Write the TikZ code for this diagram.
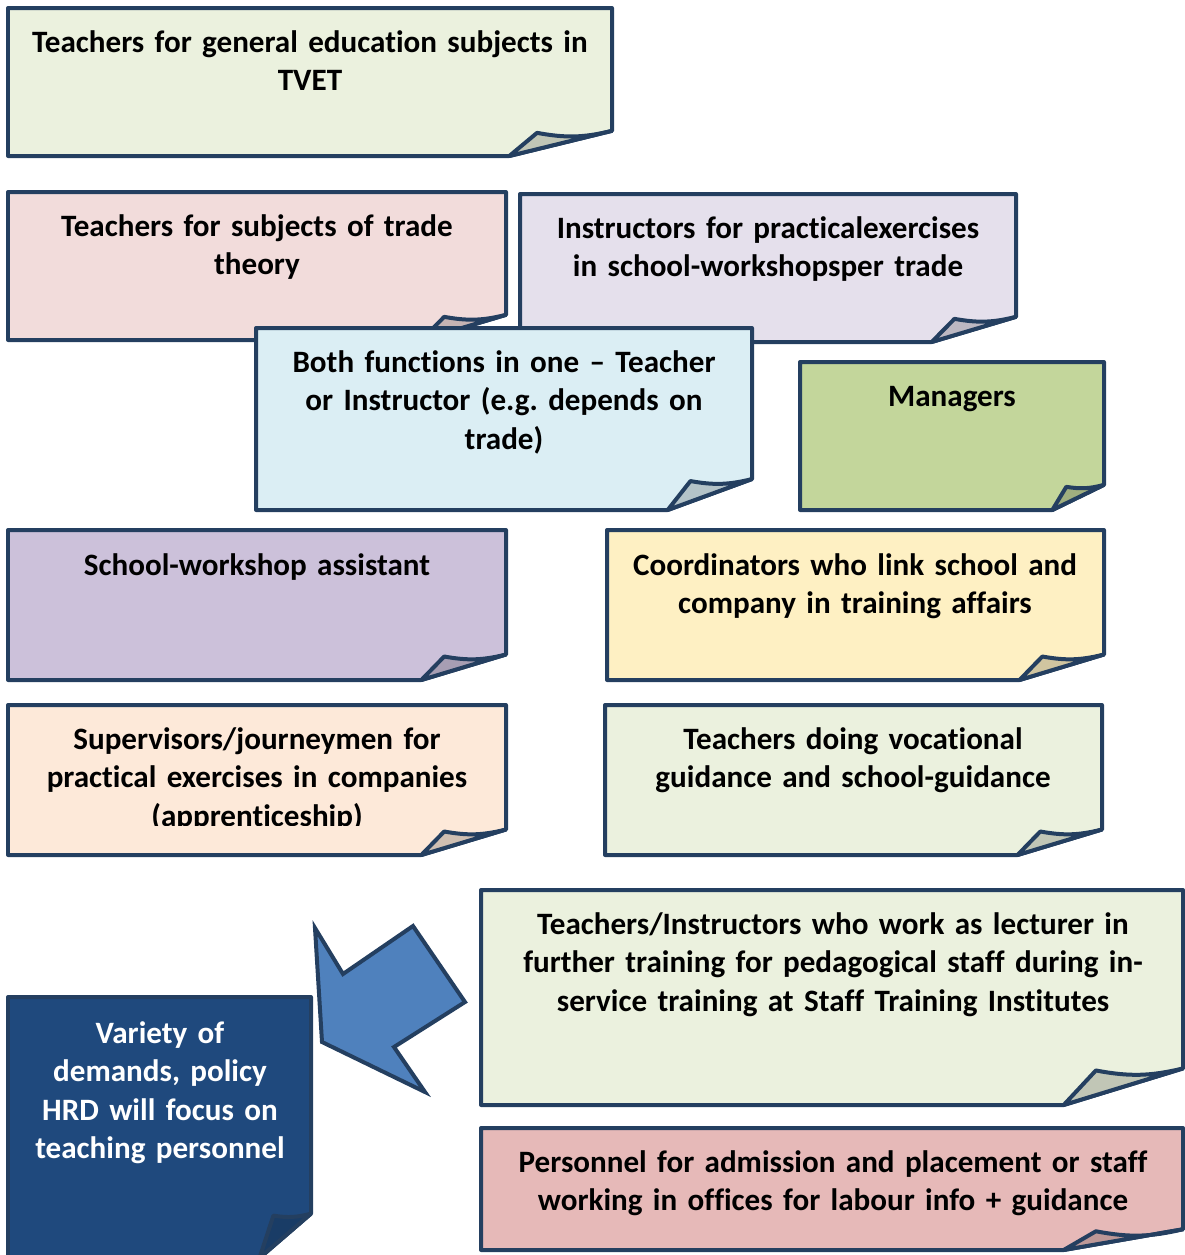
\documentclass[tikz,border=0pt]{standalone}
\usepackage{fontspec}
\setmainfont{Carlito}[Ligatures=NoCommon]
\frenchspacing
\usetikzlibrary{calc}
\usetikzlibrary{positioning}

\definecolor{edgeblue}{HTML}{243F60}
\definecolor{genfill}{HTML}{EBF1DE}
\definecolor{theoryfill}{HTML}{F2DCDB}
\definecolor{instrfill}{HTML}{E5E0EC}
\definecolor{bothfill}{HTML}{DBEEF4}
\definecolor{mgrfill}{HTML}{C3D69B}
\definecolor{assistfill}{HTML}{CCC1DA}
\definecolor{coordfill}{HTML}{FEF0C3}
\definecolor{supfill}{HTML}{FDE9D9}
\definecolor{persfill}{HTML}{E6B9B8}
\definecolor{varfill}{HTML}{1F497D}
\definecolor{arrowfill}{HTML}{4F81BD}

\tikzset{
	cardline/.style={draw=edgeblue, line width=0.08cm, line join=round},
	cardtext/.style={
		anchor=base,
		align=center,
		text width=#1,
		inner sep=0pt,
		font=\fontsize{17.7}{22}\selectfont\bfseries},
	bigarrow/.style={draw=edgeblue, line width=0.08cm, line join=miter, fill=arrowfill},
}

% folded note: name, left, top, right, bottom, fill
\newcommand{\notecard}[6]{
	\coordinate (#1-nw) at (#2,#3);
	\coordinate (#1-se) at (#4,#5);
	\coordinate (#1-c1) at ($(#1-se)!0.17!(#1-se -| #1-nw)$);
	\coordinate (#1-c2) at ($(#1-se)!0.17!(#1-se |- #1-nw)$);
	\coordinate (#1-m) at ($(#1-c1)!0.27!(#1-c2)$);
	\coordinate (#1-tip) at ($(#1-m |- #1-c2)+(0,2)$);
	\filldraw[cardline, fill=#6] (#1-nw) -- (#1-nw -| #1-se) -- (#1-c2) -- (#1-c1) -- (#1-nw |- #1-se) -- cycle;
	\filldraw[cardline, fill=#6!82!black] (#1-c1) -- (#1-tip) to[bend right=12] (#1-c2) -- cycle;
}

\begin{document}
\begin{tikzpicture}[x=0.02cm, y=-0.02cm]
	\useasboundingbox (0,0) rectangle (1185,1255);
	\clip (0,0) rectangle (1185,1255);

	\notecard{gen}{8}{8}{612}{156}{genfill}
	\node[cardtext=11.6cm] (gentext) at (310,52) {Teachers for general education subjects in\\TVET};

	\notecard{theory}{8}{192}{506}{340}{theoryfill}
	\node[cardtext=9.6cm] (theorytext) at (257,236) {Teachers for subjects of trade\\theory};

	\notecard{instr}{520}{194}{1016}{342}{instrfill}
	\node[cardtext=9.6cm] (instrtext) at (768,238) {Instructors for practicalexercises\\in school-workshopsper trade};

	\notecard{both}{256}{328}{752}{510}{bothfill}
	\node[cardtext=9.6cm] (bothtext) at (504,372) {Both functions in one -- Teacher\\or Instructor (e.g. depends on\\trade)};

	\notecard{mgr}{800}{362}{1104}{510}{mgrfill}
	\node[cardtext=5.6cm] (mgrtext) at (952,406) {Managers};

	\notecard{assist}{8}{530}{506}{680}{assistfill}
	\node[cardtext=9.6cm] (assisttext) at (257,575) {School-workshop assistant};

	\notecard{coord}{607}{530}{1104}{680}{coordfill}
	\node[cardtext=9.6cm] (coordtext) at (855,575) {Coordinators who link school and\\company in training affairs};

	\notecard{sup}{8}{705}{506}{855}{supfill}
	\begin{scope}
		\clip (8,705) rectangle (506,825);
		\node[cardtext=9.6cm] (suptext) at (257,749) {Supervisors/journeymen for\\practical exercises in companies\\(apprenticeship)};
	\end{scope}

	\notecard{guid}{605}{705}{1102}{855}{genfill}
	\node[cardtext=9.6cm] (guidtext) at (853,749) {Teachers doing vocational\\guidance and school-guidance};

	\notecard{lect}{481}{890}{1183}{1105}{genfill}
	\node[cardtext=13.6cm] (lecttext) at (833,934) {Teachers/Instructors who work as lecturer in\\further training for pedagogical staff during in-\\service training at Staff Training Institutes};

	\notecard{pers}{481}{1128}{1183}{1250}{persfill}
	\node[cardtext=13.6cm] (perstext) at (833,1172) {Personnel for admission and placement or staff\\working in offices for labour info + guidance};

	\draw[bigarrow] (315,928) -- (343,974) -- (413,926) -- (465,1002) -- (394,1047) -- (425,1092) -- (322,1042) -- cycle;

	\notecard{var}{8}{997}{311}{1258}{varfill}
	\node[cardtext=5.8cm, text=white] (vartext) at (160,1043) {Variety of\\demands, policy\\HRD will focus on\\teaching personnel};
\end{tikzpicture}
\end{document}
